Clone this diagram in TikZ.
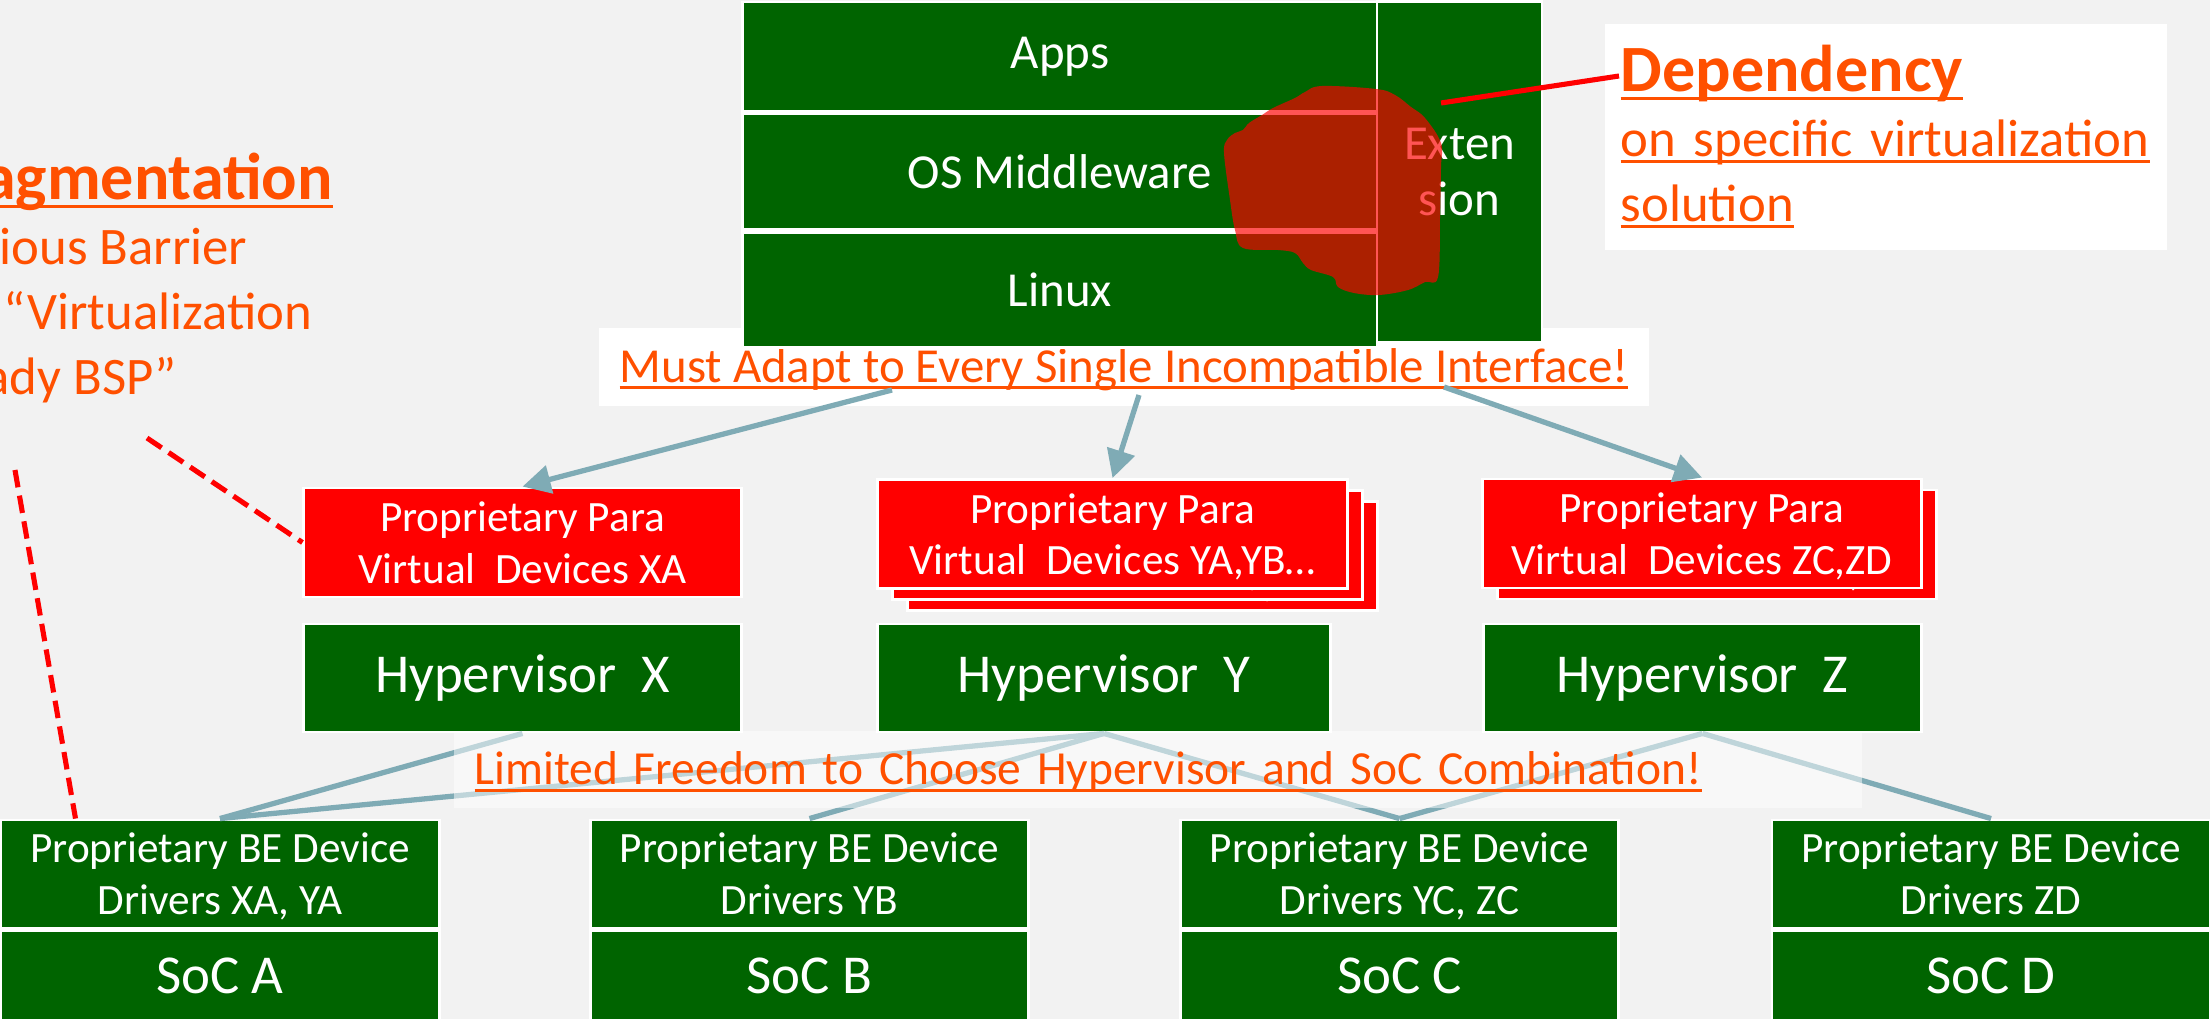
\documentclass[tikz,border=0pt]{standalone}
\usepackage{fontspec}
\setmainfont{Carlito}
\usetikzlibrary{positioning, arrows.meta}

\definecolor{slidebg}{RGB}{242,242,242}
\definecolor{boxgreen}{RGB}{0,100,0}
\definecolor{wireblue}{RGB}{127,171,181}
\definecolor{warnorange}{RGB}{255,80,0}

% underline at a fixed depth below the baseline
\newsavebox{\ulbox}
\newcommand{\ulined}[2][1.9pt]{\sbox{\ulbox}{#2}\leavevmode\rlap{\rule[-#1]{\wd\ulbox}{0.85pt}}\usebox{\ulbox}}

\begin{document}
\begin{tikzpicture}[
    x=0.01cm, y=-0.01cm,
    every node/.style={inner sep=0pt},
    blk/.style={draw=white, line width=0.8pt, text=white, align=center},
    stackbox/.style={blk, fill=boxgreen, font=\fontsize{13.9}{16.2}\selectfont},
    pvbox/.style={blk, fill=red, minimum height=1.09cm, text depth=0pt, font=\fontsize{12.3}{14.6}\selectfont},
    hypbox/.style={blk, fill=boxgreen, minimum height=1.08cm, font=\fontsize{15.6}{18.7}\selectfont},
    drvbox/.style={blk, fill=boxgreen, minimum width=4.38cm, minimum height=1.08cm, text depth=0pt, font=\fontsize{12.3}{14.8}\selectfont},
    socbox/.style={blk, fill=boxgreen, minimum width=4.38cm, minimum height=0.9cm, font=\fontsize{15.6}{18.7}\selectfont},
    banner/.style={text=warnorange, text height=8.8pt, text depth=0pt, minimum height=0.78cm, font=\fontsize{13.9}{16.7}\selectfont},
    warn/.style={text=warnorange, align=left, font=\fontsize{15}{18.5}\selectfont},
    wire/.style={draw=wireblue, line width=1.5pt},
    pointer/.style={wire, -{Triangle[length=0.28cm, width=0.28cm]}},
    dashlink/.style={draw=red, line width=1.45pt, dash pattern=on 5pt off 2.4pt},
]

% Slide area
\useasboundingbox (0,0) rectangle (2210,1019);
\clip (0,0) rectangle (2210,1019);
\fill[slidebg] (0,0) rectangle (2210,1019);

% Side notes (base = last line)
\node[warn, anchor=base west] (frag) at (-70,395)
    {{\fontsize{18.8}{22}\selectfont\bfseries\ulined[2.4pt]{Fragmentation}}\\Serious Barrier\\for “Virtualization\\Ready BSP”};

\node[warn, fill=white, anchor=north west, text width=5.3cm, inner xsep=0.16cm, minimum height=2.26cm] (dep) at (1604,23)
    {{\fontsize{18.8}{22}\selectfont\bfseries\ulined[2.4pt]{Dependency}}\\\ulined{on specific virtualization}\\\ulined{solution}};

% Banner below the guest stack
\node[banner, fill=white, minimum width=10.5cm] (adapt) at (1124,367)
    {\ulined{Must Adapt to Every Single Incompatible Interface!}};

% Guest stack
\node[stackbox, minimum width=6.34cm, minimum height=1.09cm] (apps) at (1060,56.5) {Apps};
\node[stackbox, minimum width=6.34cm, minimum height=1.16cm, below=0pt of apps] (mw) {OS Middleware};
\node[stackbox, minimum width=6.34cm, minimum height=1.15cm, below=0pt of mw] (linux) {Linux};
\node[stackbox, minimum width=1.65cm, minimum height=3.4cm] (ext) at (1459.5,172) {Exten\\sion};

% Stain over the extension
\fill[red, fill opacity=0.67] plot[smooth cycle, tension=0.6] coordinates {
    (1322,86) (1376,89) (1395,95) (1411,107) (1425,118) (1441,143) (1441,167)
    (1440,217) (1438,277) (1425,282) (1408,290) (1379,295) (1354,293) (1338,287)
    (1333,277) (1311,270) (1303,263) (1295,253) (1278,250) (1243,248) (1235,230)
    (1230,200) (1224,153) (1227,140) (1235,133) (1243,130) (1249,123) (1262,115)
    (1273,108) (1295,98) (1305,92)};

\coordinate (blobtip) at (1441,103);
\coordinate (deptip) at (1619,76);
\draw[red, line width=1.45pt] (blobtip) -- (deptip);

% Para-virtual devices
\node[pvbox, minimum width=4.37cm] (pvX) at (522.5,542.5) {Proprietary Para\\Virtual~~Devices XA};
\foreach \dx/\dy in {30/22, 15/11}
    \node[pvbox, minimum width=4.69cm] at (1112.5+\dx,534+\dy) {Proprietary Para\\Virtual~~Devices YA,YB…};
\node[pvbox, minimum width=4.69cm] (pvY) at (1112.5,534) {Proprietary Para\\Virtual~~Devices YA,YB…};
\node[pvbox, minimum width=4.38cm] at (1717,544.5) {Proprietary Para\\Virtual~~Devices ZC,ZD};
\node[pvbox, minimum width=4.38cm] (pvZ) at (1702,533.5) {Proprietary Para\\Virtual~~Devices ZC,ZD};

% Hypervisors
\foreach \h/\cx/\w in {X/522.5/4.37, Y/1104/4.52, Z/1702.5/4.37}
    \node[hypbox, minimum width=\w cm] (hyp\h) at (\cx,678) {Hypervisor~~\h};

% Back-end drivers on their SoCs
\foreach \s/\cx/\drv in {A/220/{XA, YA}, B/809.5/YB, C/1399.5/{YC, ZC}, D/1991/ZD} {
    \node[drvbox] (drv\s) at (\cx,874) {Proprietary BE Device\\Drivers \drv};
    \node[socbox, below=0pt of drv\s] (soc\s) {SoC \s};
}

% Hypervisor to driver links
\foreach \h/\s in {X/A, Y/A, Y/B, Y/C, Z/C, Z/D}
    \draw[wire] (hyp\h.south) -- (drv\s.north);

\node[banner, fill=white, fill opacity=0.5, text opacity=1, align=left, text width=13.66cm, inner xsep=0.21cm, minimum height=0.77cm, font=\fontsize{13.5}{16.2}\selectfont] (freedom) at (1158,769.5)
    {\ulined{Limited Freedom to Choose Hypervisor and SoC Combination!}};

% Pointers from the banner
\coordinate (adaptX) at (892,390);
\coordinate (adaptY) at (1139,395);
\coordinate (adaptZ) at (1444,387);
\foreach \h in {X,Y,Z}
    \draw[pointer] (adapt\h) -- (pv\h.north);

% Dashed links from the fragmentation note
\coordinate (fragA) at (147,438);
\coordinate (fragB) at (15,470);
\draw[dashlink] (fragA) -- (pvX.west);
\draw[dashlink] (fragB) -- ([xshift=0.76cm]drvA.north west);

\end{tikzpicture}
\end{document}
